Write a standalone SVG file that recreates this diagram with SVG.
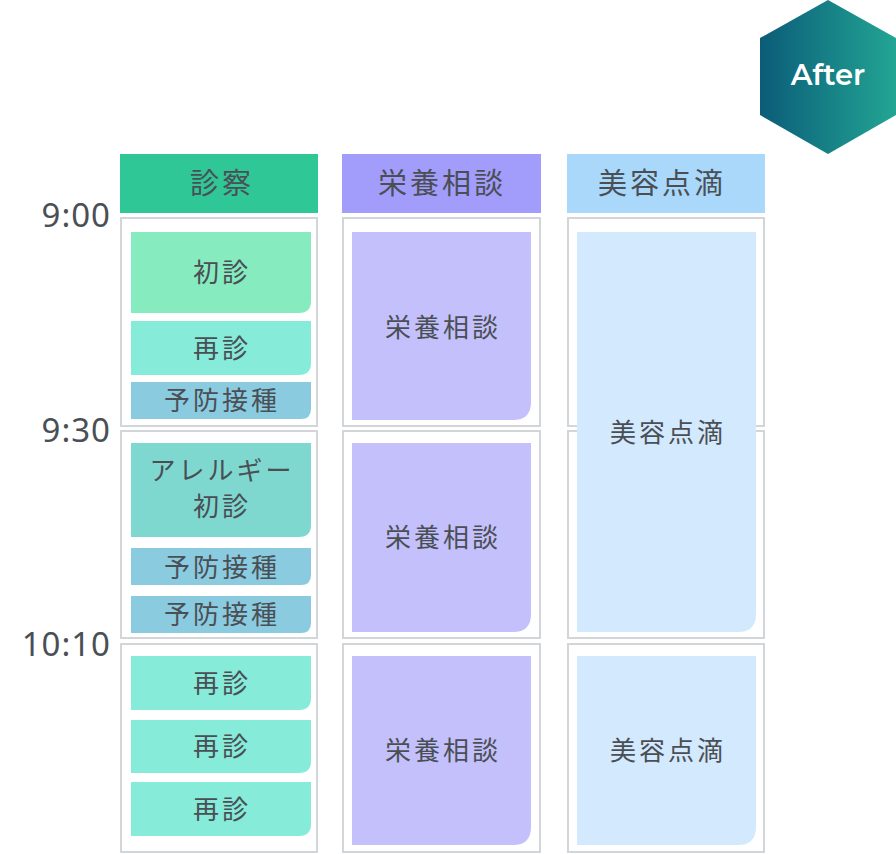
<svg xmlns="http://www.w3.org/2000/svg" width="896" height="854" viewBox="0 0 896 854">
<style>
text{font-family:"Noto Sans CJK JP","Noto Sans",sans-serif;fill:#4a4f55;text-anchor:middle;font-weight:400}
.h{font-size:29px;letter-spacing:3px}.b{font-size:26px;letter-spacing:3px}.t{font-size:33px;letter-spacing:1px;text-anchor:end;font-family:"Noto Sans","Noto Sans CJK JP",sans-serif}
.cell{fill:#fff;stroke:#d3d6d8;stroke-width:2}
</style>
<defs>
<linearGradient id="g" x1="0" x2="1"><stop offset="0" stop-color="#0b5c78"/><stop offset="1" stop-color="#22a594"/></linearGradient>
</defs>
<g id="badge"><polygon points="828,0 896,38 896,115 828,154 760,115 760,38" fill="url(#g)"/><text x="828" y="85" style="font-family:Montserrat,'Noto Sans',sans-serif;font-size:29px;fill:#fff;font-weight:600">After</text></g>
<g id="times"><text class="t" x="111" y="227">9:00</text><text class="t" x="111" y="442">9:30</text><text class="t" x="111" y="656">10:10</text></g>
<g id="col1">
<rect x="120" y="154" width="198" height="59" fill="#30c796"/><text class="h" x="222" y="194">診察</text>
<rect class="cell" x="121" y="218" width="196" height="208"/><rect class="cell" x="121" y="431" width="196" height="207"/><rect class="cell" x="121" y="644" width="196" height="208"/>
<path d="M131 232H311V301Q311 313 299 313H131Z" fill="#86ebbf"/><text class="b" x="222" y="282">初診</text>
<path d="M131 321H311V363Q311 375 299 375H131Z" fill="#86ebd9"/><text class="b" x="222" y="358">再診</text>
<path d="M131 382H311V409Q311 419 301 419H131Z" fill="#8acbdf"/><text class="b" x="222" y="410">予防接種</text>
<path d="M131 443H311V525Q311 537 299 537H131Z" fill="#7fd8cf"/><text class="b" x="222" y="480">アレルギー</text><text class="b" x="222" y="516">初診</text>
<path d="M131 548H311V575Q311 585 301 585H131Z" fill="#8acbdf"/><text class="b" x="222" y="577">予防接種</text>
<path d="M131 596H311V623Q311 633 301 633H131Z" fill="#8acbdf"/><text class="b" x="222" y="624">予防接種</text>
<path d="M131 656H311V698Q311 710 299 710H131Z" fill="#86ebd9"/><text class="b" x="222" y="693">再診</text>
<path d="M131 720H311V761Q311 773 299 773H131Z" fill="#86ebd9"/><text class="b" x="222" y="756">再診</text>
<path d="M131 782H311V824Q311 836 299 836H131Z" fill="#86ebd9"/><text class="b" x="222" y="819">再診</text>
</g>
<g id="col2">
<rect x="342" y="154" width="199" height="59" fill="#a29cfb"/><text class="h" x="442" y="194">栄養相談</text>
<rect class="cell" x="343" y="218" width="197" height="208"/><rect class="cell" x="343" y="431" width="197" height="207"/><rect class="cell" x="343" y="644" width="197" height="208"/>
<path d="M352 232H531V402Q531 420 513 420H352Z" fill="#c4c0fb"/><text class="b" x="443" y="337">栄養相談</text>
<path d="M352 443H531V614Q531 632 513 632H352Z" fill="#c4c0fb"/><text class="b" x="443" y="547">栄養相談</text>
<path d="M352 656H531V827Q531 845 513 845H352Z" fill="#c4c0fb"/><text class="b" x="443" y="760">栄養相談</text>
</g>
<g id="col3">
<rect x="567" y="154" width="198" height="59" fill="#a9d8fb"/><text class="h" x="662" y="194">美容点滴</text>
<rect class="cell" x="568" y="218" width="196" height="208"/><rect class="cell" x="568" y="431" width="196" height="207"/><rect class="cell" x="568" y="644" width="196" height="208"/>
<path d="M577 232H756V614Q756 632 738 632H577Z" fill="#d3e9fd"/><text class="b" x="668" y="442">美容点滴</text>
<path d="M577 656H756V827Q756 845 738 845H577Z" fill="#d3e9fd"/><text class="b" x="668" y="760">美容点滴</text>
</g>
<g id="connectors"/>
</svg>
